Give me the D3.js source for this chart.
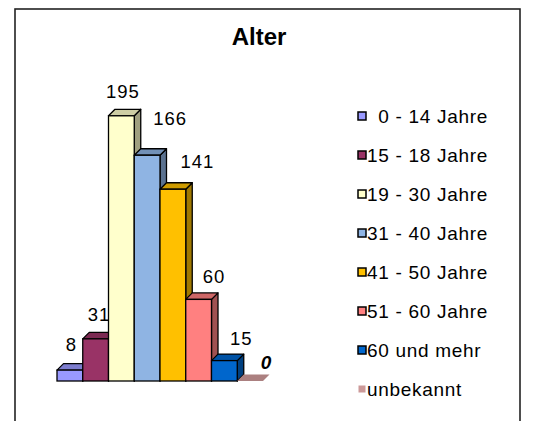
<!DOCTYPE html>
<html>
<head>
<meta charset="utf-8">
<title>Alter</title>
<script src="https://cdn.jsdelivr.net/npm/d3@7"></script>
<style>
  body { margin: 0; background: #fff; }
  text { font-family: "Liberation Sans", Arial, sans-serif; }
</style>
</head>
<body>
<svg id="chart" width="534" height="421"></svg>
<script>
// data
const categories = ["0 - 14 Jahre", "15 - 18 Jahre", "19 - 30 Jahre", "31 - 40 Jahre",
                    "41 - 50 Jahre", "51 - 60 Jahre", "60 und mehr", "unbekannt"];
const values = [8, 31, 195, 166, 141, 60, 15, 0];
const colors = ["#9999ff", "#993366", "#ffffcc", "#8fb4e3", "#ffc000", "#ff8080", "#0066cc", "#cc9999"];

// excel puts some labels off to the side, nudge them the same way
const labelDx = [1.5, 3.5, 1.5, 23, 24.5, 15.5, 17, 16];
const labelDy = [19, 18, 18, 30, 21, 16, 16, 12];

const svg = d3.select("#chart");
const depth = 6.5;

svg.append("rect")
  .attr("x", 15).attr("y", 9)
  .attr("width", 505).attr("height", 440)
  .attr("fill", "none").attr("stroke", "#222").attr("stroke-width", 1.6);

svg.append("text")
  .attr("x", 259).attr("y", 45)
  .attr("text-anchor", "middle")
  .style("font-size", "24px").style("font-weight", "bold")
  .text("Alter");

const x = d3.scaleBand().domain(d3.range(values.length)).range([57, 263]).padding(0);
const y = d3.scaleLinear().domain([0, 200]).range([381, 109]);
const w = x.bandwidth();
const y0 = y(0);

// labels go first so the tall bar hides part of the "31"
svg.selectAll(".lbl")
  .data(values)
  .enter().append("text")
  .attr("class", "lbl")
  .attr("x", (d, i) => x(i) + w / 2 + labelDx[i])
  .attr("y", (d, i) => y(d) - labelDy[i])
  .attr("text-anchor", "middle")
  .style("font-size", d => d === 0 ? "19px" : "18.5px")
  .style("letter-spacing", d => d === 0 ? "0px" : "1px")
  .style("font-weight", d => d === 0 ? "bold" : "normal")
  .style("font-style", d => d === 0 ? "italic" : "normal")
  .text(d => d);

const bars = svg.selectAll(".bar")
  .data(values)
  .enter().append("g")
  .attr("class", "bar");

bars.each(function(v, i) {
  const g = d3.select(this);
  const x1 = x(i), x2 = x(i) + w, yt = y(v);
  const c = d3.color(colors[i]);
  if (v === 0) {
    g.append("polygon")
      .attr("points", [[x1, y0], [x1 + depth, y0 - depth], [x2 + depth, y0 - depth], [x2, y0]].join(" "))
      .attr("fill", c.darker(0.5));
    return;
  }
  g.append("polygon")
    .attr("points", [[x2, yt], [x2 + depth, yt - depth], [x2 + depth, y0 - depth], [x2, y0]].join(" "))
    .attr("fill", c.darker(1.3))
    .attr("stroke", "#000").attr("stroke-width", 1.3).attr("stroke-linejoin", "round");
  g.append("polygon")
    .attr("points", [[x1, yt], [x1 + depth, yt - depth], [x2 + depth, yt - depth], [x2, yt]].join(" "))
    .attr("fill", c.darker(0.6))
    .attr("stroke", "#000").attr("stroke-width", 1.3).attr("stroke-linejoin", "round");
  g.append("rect")
    .attr("x", x1).attr("y", yt)
    .attr("width", w).attr("height", y0 - yt)
    .attr("fill", colors[i])
    .attr("stroke", "#000").attr("stroke-width", 1.3);
});

// legend
const legend = svg.selectAll(".leg")
  .data(categories)
  .enter().append("g")
  .attr("class", "leg")
  .attr("transform", (d, i) => "translate(358," + (116 + i * 39) + ")");

legend.append("rect")
  .attr("x", (d, i) => i === 7 ? 0.5 : 0)
  .attr("y", (d, i) => i === 7 ? -3.5 : -4)
  .attr("width", (d, i) => i === 7 ? 7 : 8)
  .attr("height", (d, i) => i === 7 ? 7 : 8)
  .attr("fill", (d, i) => colors[i])
  .attr("stroke", (d, i) => i === 7 ? "none" : "#000")
  .attr("stroke-width", 1.5);

legend.append("text")
  .attr("x", 9)
  .attr("y", 6.5)
  .style("font-size", "19px")
  .style("letter-spacing", "0.7px")
  .text((d, i) => i === 0 ? "\u2007" + d : d);
</script>
</body>
</html>
